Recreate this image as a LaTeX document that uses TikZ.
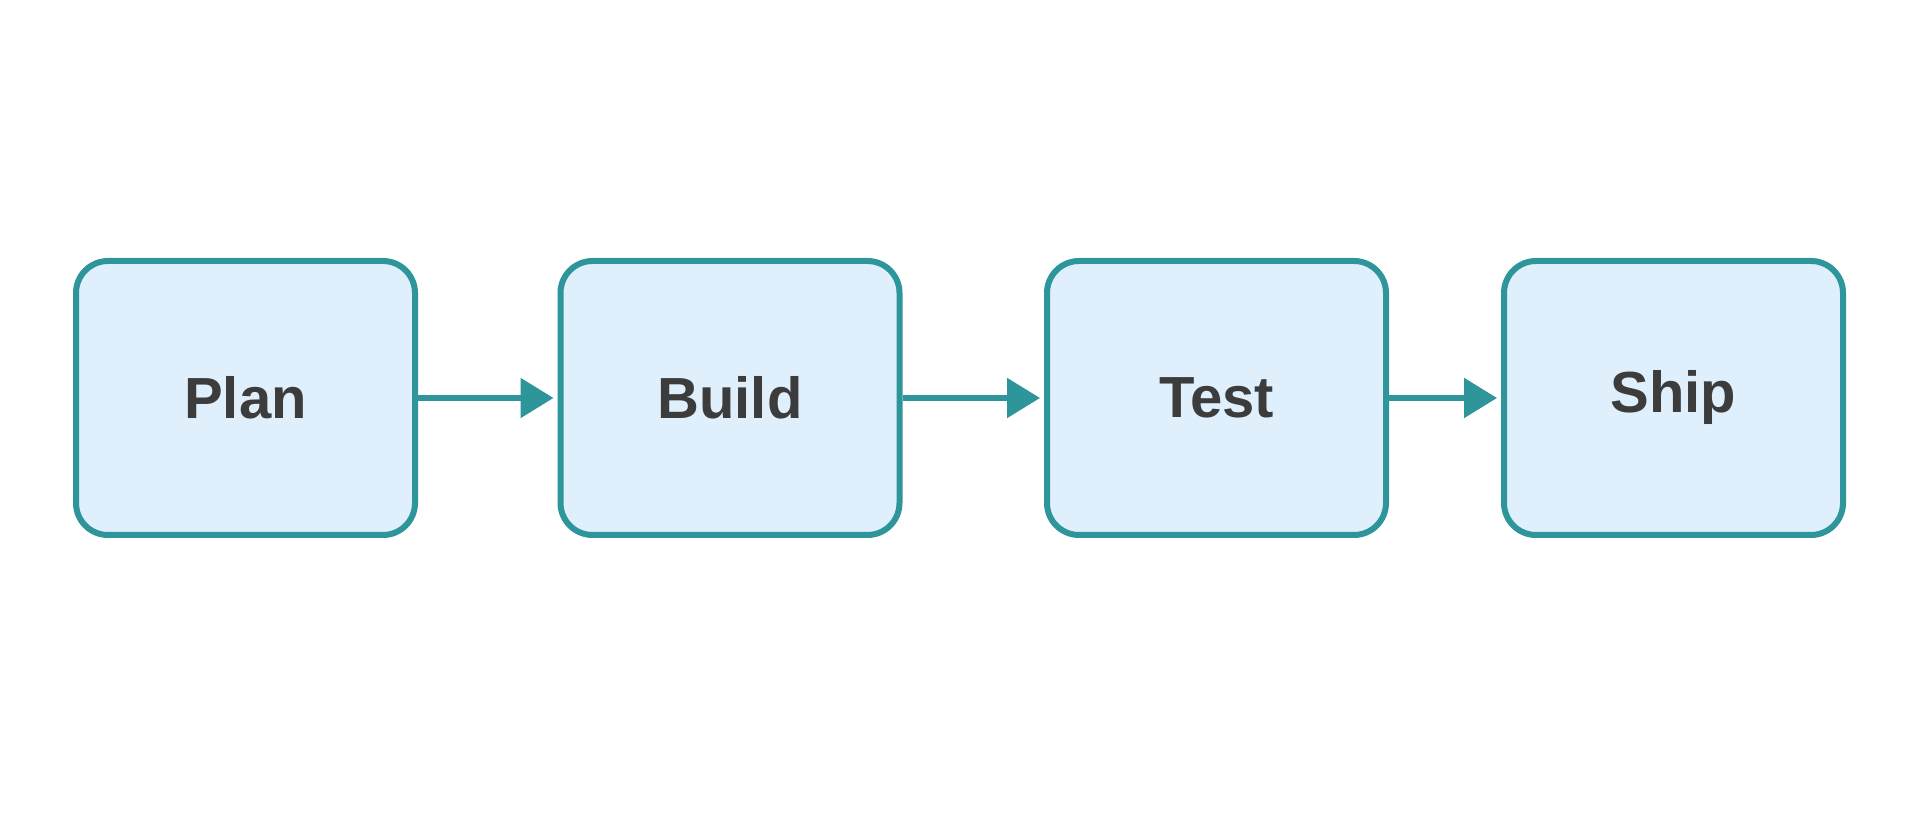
\documentclass[tikz,border=0pt]{standalone}
\usepackage{fontspec}
\setmainfont{Liberation Sans}
\usetikzlibrary{arrows.meta}
\definecolor{teal1}{RGB}{46, 149, 155}
\definecolor{fill1}{RGB}{223, 239, 252}
\definecolor{text1}{RGB}{60, 60, 60}

\begin{document}
\begin{tikzpicture}[x=1pt, y=1pt,
	stage/.style={draw=teal1, line width=6pt, fill=fill1, rounded corners=32pt,
		minimum width=339pt, minimum height=274pt, inner sep=0pt,
		text=text1, font=\fontsize{58}{60}\selectfont\bfseries},
	flow/.style={teal1, line width=5.5pt, -{Triangle[length=33pt, width=39pt]}, shorten >=4pt}]
	\useasboundingbox (0,0) rectangle (1920,819);
	\node[stage] (plan)  at (245.5, 421) {Plan};
	\node[stage] (build) at (730, 421)   {Build};
	\node[stage] (test)  at (1216.5, 421) {Test};
	\node[stage] (ship)  at (1673.5, 421) {Ship};
	\draw[flow] (plan) -- (build);
	\draw[flow] (build) -- (test);
	\draw[flow] (test) -- (ship);
\end{tikzpicture}
\end{document}
